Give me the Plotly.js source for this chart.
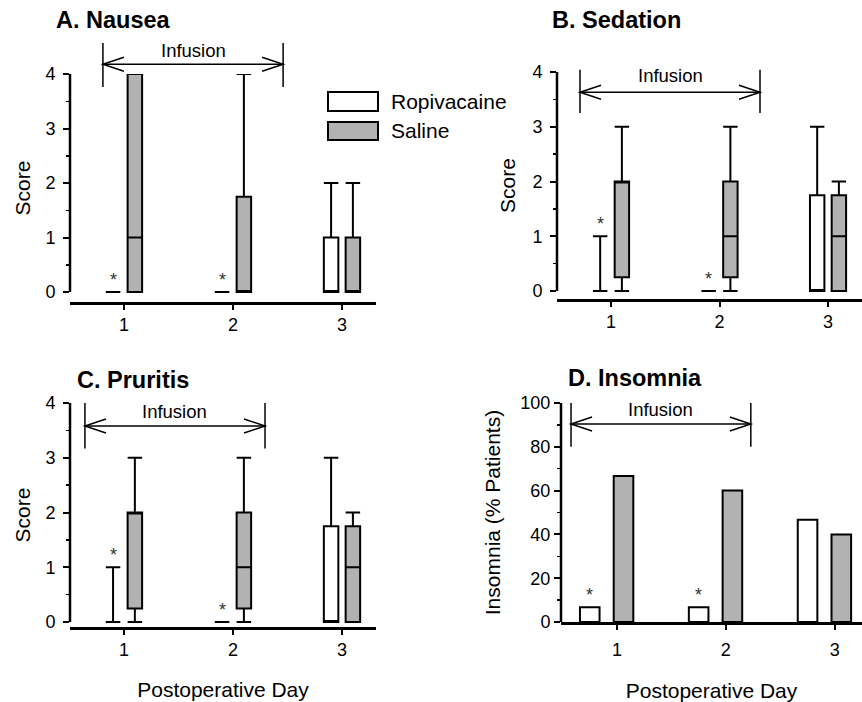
<!DOCTYPE html>
<html><head><meta charset="utf-8">
<script src="https://cdn.plot.ly/plotly-3.0.1.min.js"></script>
<style>html,body{margin:0;padding:0;background:#fff}#chart{width:862px;height:702px}</style>
</head><body><div id="chart"></div>
<script>
// ---------- data ----------
const days = [1, 2, 3];
const dayLabels = ['1', '2', '3'];
const seriesNames = ['Ropivacaine', 'Saline'];
const panelTitles = ['A. Nausea', 'B. Sedation', 'C. Pruritis', 'D. Insomnia'];
const scoreTicks = [0, 1, 2, 3, 4];
const scoreMinorTicks = [0.5, 1.5, 2.5, 3.5];
const pctTicks = [0, 20, 40, 60, 80, 100];
const pctMinorTicks = [10, 30, 50, 70, 90];

// A. Nausea (box statistics per day)
const nauseaRopiQ1 = [0, 0, 0];
const nauseaRopiMed = [0, 0, 0];
const nauseaRopiQ3 = [0, 0, 1];
const nauseaRopiLo = [0, 0, 0];
const nauseaRopiHi = [0, 0, 2];
const nauseaSalQ1 = [0, 0, 0];
const nauseaSalMed = [1, 0, 0];
const nauseaSalQ3 = [4, 1.75, 1];
const nauseaSalLo = [0, 0, 0];
const nauseaSalHi = [4, 4, 2];
const nauseaSig = [true, true, false];

// B. Sedation
const sedRopiQ1 = [0, 0, 0];
const sedRopiMed = [0, 0, 0];
const sedRopiQ3 = [0, 0, 1.75];
const sedRopiLo = [0, 0, 0];
const sedRopiHi = [1, 0, 3];
const sedSalQ1 = [0.25, 0.25, 0];
const sedSalMed = [2, 1, 1];
const sedSalQ3 = [2, 2, 1.75];
const sedSalLo = [0, 0, 0];
const sedSalHi = [3, 3, 2];
const sedSig = [true, true, false];

// C. Pruritis
const prurRopiQ1 = [0, 0, 0];
const prurRopiMed = [0, 0, 0];
const prurRopiQ3 = [0, 0, 1.75];
const prurRopiLo = [0, 0, 0];
const prurRopiHi = [1, 0, 3];
const prurSalQ1 = [0.25, 0.25, 0];
const prurSalMed = [2, 1, 1];
const prurSalQ3 = [2, 2, 1.75];
const prurSalLo = [0, 0, 0];
const prurSalHi = [3, 3, 2];
const prurSig = [true, true, false];

// D. Insomnia (% patients)
const insomRopi = [6.7, 6.7, 46.7];
const insomSal = [66.7, 60, 40];
const insomSig = [true, true, false];

// ---------- styling / layout geometry ----------
const FONT = 'Arial, "Liberation Sans", Helvetica, sans-serif';
const W = 862, H = 702;
const GRAY = '#b2b2b2';
const px = v => v / W;
const py = v => 1 - v / H;

const panels = [
  {xa: 'x',  ya: 'y',  dom: {x: [px(70), px(376)],  y: [py(302), py(74)]},  xr: [0.505, 3.312], yr: [-0.183, 4], top: 4,
   ylabOff: 4, ytitleOff: 9, xlabOff: 0, xtitleOff: 18},
  {xa: 'x2', ya: 'y2', dom: {x: [px(557), 1],       y: [py(299), py(72)]},  xr: [0.502, 3.313], yr: [-0.146, 4], top: 4,
   ylabOff: 4, ytitleOff: 11, xlabOff: 0, xtitleOff: 18},
  {xa: 'x3', ya: 'y3', dom: {x: [px(70), px(376)],  y: [py(627), py(403)]}, xr: [0.505, 3.312], yr: [-0.09, 4],  top: 4,
   ylabOff: 4, ytitleOff: 9, xlabOff: 0, xtitleOff: 23},
  {xa: 'x4', ya: 'y4', dom: {x: [px(561), 1],       y: [py(622), py(403)]}, xr: [0.486, 3.25],  yr: [0, 100],    top: 100,
   ylabOff: 0, ytitleOff: 14, xlabOff: 5, xtitleOff: 25}
];
// infusion bracket geometry per panel (axis units)
const brackets = [
  {x0: 0.807, x1: 2.46,  yArrow: 4.18, yTop: 4.57, yBot: 3.76, yText: 4.44},
  {x0: 0.714, x1: 2.373, yArrow: 3.63, yTop: 4.04, yBot: 3.25, yText: 3.93},
  {x0: 0.642, x1: 2.294, yArrow: 3.58, yTop: 4.0,  yBot: 3.17, yText: 3.85},
  {x0: 0.578, x1: 2.229, yArrow: 90.4, yTop: 100,  yBot: 80,   yText: 97}
];
const BOXGAP = 0.6, BOXGROUPGAP = 0.335;
const ropiBoxShift = -0.25 * (1 - BOXGAP);
const BAR_W = 0.18, BAR_OFF = [-0.34, -0.03];

function toPaperY(p, v) {
  const f = (v - p.yr[0]) / (p.yr[1] - p.yr[0]);
  return p.dom.y[0] + f * (p.dom.y[1] - p.dom.y[0]);
}

function boxTrace(name, pi, q1, med, q3, lo, hi, fill) {
  const p = panels[pi];
  return {
    type: 'box', name: name, x: days, q1: q1, median: med, q3: q3,
    lowerfence: lo, upperfence: hi, xaxis: p.xa, yaxis: p.ya,
    alignmentgroup: 'panel' + pi, offsetgroup: name,
    fillcolor: fill, line: {color: '#000', width: 2}, whiskerwidth: 1,
    boxpoints: false, hoverinfo: 'skip', showlegend: false
  };
}

const data = [
  boxTrace(seriesNames[0], 0, nauseaRopiQ1, nauseaRopiMed, nauseaRopiQ3, nauseaRopiLo, nauseaRopiHi, '#ffffff'),
  boxTrace(seriesNames[1], 0, nauseaSalQ1, nauseaSalMed, nauseaSalQ3, nauseaSalLo, nauseaSalHi, GRAY),
  boxTrace(seriesNames[0], 1, sedRopiQ1, sedRopiMed, sedRopiQ3, sedRopiLo, sedRopiHi, '#ffffff'),
  boxTrace(seriesNames[1], 1, sedSalQ1, sedSalMed, sedSalQ3, sedSalLo, sedSalHi, GRAY),
  boxTrace(seriesNames[0], 2, prurRopiQ1, prurRopiMed, prurRopiQ3, prurRopiLo, prurRopiHi, '#ffffff'),
  boxTrace(seriesNames[1], 2, prurSalQ1, prurSalMed, prurSalQ3, prurSalLo, prurSalHi, GRAY),
  {type: 'bar', name: seriesNames[0], x: days, y: insomRopi, xaxis: 'x4', yaxis: 'y4',
   width: BAR_W, offset: BAR_OFF[0], marker: {color: '#ffffff', line: {color: '#000', width: 2}},
   hoverinfo: 'skip', showlegend: false},
  {type: 'bar', name: seriesNames[1], x: days, y: insomSal, xaxis: 'x4', yaxis: 'y4',
   width: BAR_W, offset: BAR_OFF[1], marker: {color: GRAY, line: {color: '#000', width: 2}},
   hoverinfo: 'skip', showlegend: false}
];

const layout = {
  width: W, height: H, margin: {l: 0, r: 0, t: 0, b: 0},
  paper_bgcolor: '#fff', plot_bgcolor: 'rgba(0,0,0,0)',
  font: {family: FONT, color: '#000', size: 18},
  showlegend: false, boxmode: 'group', boxgap: BOXGAP, boxgroupgap: BOXGROUPGAP,
  barmode: 'overlay',
  shapes: [], annotations: []
};

const yTitles = ['Score', 'Score', 'Score', 'Insomnia (% Patients)'];
const xTitles = ['', '', 'Postoperative Day', 'Postoperative Day'];

panels.forEach((p, i) => {
  const n = i === 0 ? '' : String(i + 1);
  const isPct = i === 3;
  layout['xaxis' + n] = {
    domain: p.dom.x, range: p.xr, anchor: p.ya,
    showline: true, linewidth: 2.5, linecolor: '#000',
    ticks: 'outside', ticklen: 5, tickwidth: 2, tickcolor: '#000',
    tickmode: 'array', tickvals: days, ticktext: dayLabels, ticklabelstandoff: p.xlabOff,
    tickfont: {size: 18}, showgrid: false, zeroline: false, fixedrange: true,
    title: {text: xTitles[i], font: {size: 21}, standoff: p.xtitleOff}
  };
  layout['yaxis' + n] = {
    domain: p.dom.y, range: p.yr, anchor: p.xa,
    showline: false,
    ticks: 'outside', ticklen: 6, tickwidth: 2, tickcolor: '#000',
    tickmode: 'array', tickvals: isPct ? pctTicks : scoreTicks, ticklabelstandoff: p.ylabOff,
    minor: {tickmode: 'array', tickvals: isPct ? pctMinorTicks : scoreMinorTicks,
            ticks: 'outside', ticklen: 3, tickwidth: 1.5, tickcolor: '#000', showgrid: false},
    tickfont: {size: 18}, showgrid: false, zeroline: false, fixedrange: true,
    title: {text: yTitles[i], font: {size: 21}, standoff: p.ytitleOff}
  };
  // y axis line from 0 to top tick
  layout.shapes.push({type: 'line', xref: p.xa + ' domain', yref: p.ya, x0: 0, x1: 0, y0: 0, y1: p.top,
    line: {color: '#000', width: 2.5}});
  // infusion bracket
  const b = brackets[i];
  const ya = toPaperY(p, b.yArrow);
  const lineStyle = {color: '#000', width: 1.5};
  layout.shapes.push({type: 'line', xref: p.xa, yref: 'paper', x0: b.x0, x1: b.x1, y0: ya, y1: ya, line: lineStyle});
  layout.shapes.push({type: 'line', xref: p.xa, yref: 'paper', x0: b.x0, x1: b.x0, y0: toPaperY(p, b.yTop), y1: toPaperY(p, b.yBot), line: lineStyle});
  layout.shapes.push({type: 'line', xref: p.xa, yref: 'paper', x0: b.x1, x1: b.x1, y0: toPaperY(p, b.yTop), y1: toPaperY(p, b.yBot), line: lineStyle});
  layout.shapes.push({type: 'path', xref: p.xa, yref: 'paper', xsizemode: 'pixel', ysizemode: 'pixel',
    xanchor: b.x0, yanchor: ya, path: 'M 21 7 L 0 0 L 21 -7', line: lineStyle});
  layout.shapes.push({type: 'path', xref: p.xa, yref: 'paper', xsizemode: 'pixel', ysizemode: 'pixel',
    xanchor: b.x1, yanchor: ya, path: 'M -21 7 L 0 0 L -21 -7', line: lineStyle});
  layout.annotations.push({xref: p.xa, yref: 'paper', x: (b.x0 + b.x1) / 2, y: toPaperY(p, b.yText),
    text: 'Infusion', showarrow: false, xanchor: 'center', yanchor: 'middle', font: {size: 18.5}});
});

// panel titles
const titlePos = [[54, 20], [550, 20], [75, 380], [566, 378]];
panelTitles.forEach((t, i) => {
  layout.annotations.push({xref: 'paper', yref: 'paper', x: px(titlePos[i][0]), y: py(titlePos[i][1]),
    text: '<b>' + t + '</b>', showarrow: false, xanchor: 'left', yanchor: 'middle', font: {size: 23.5}});
});

// significance asterisks
const sigSets = [[nauseaSig, nauseaRopiHi], [sedSig, sedRopiHi], [prurSig, prurRopiHi], [insomSig, insomRopi]];
sigSets.forEach((s, i) => {
  const p = panels[i];
  const shift = i === 3 ? BAR_OFF[0] + BAR_W / 2 : ropiBoxShift;
  s[0].forEach((sig, k) => {
    if (!sig) return;
    layout.annotations.push({xref: p.xa, yref: p.ya, x: days[k] + shift, y: s[1][k],
      text: '*', showarrow: false, xanchor: 'center', yanchor: 'middle', yshift: 12,
      font: {size: 18, color: '#333'}});
  });
});

// legend (drawn in panel A)
const legendItems = [[seriesNames[0], '#ffffff', 92, 111], [seriesNames[1], GRAY, 122, 140]];
legendItems.forEach(it => {
  layout.shapes.push({type: 'rect', xref: 'paper', yref: 'paper', x0: px(328), x1: px(378), y0: py(it[3]), y1: py(it[2]),
    fillcolor: it[1], line: {color: '#000', width: 2}});
  layout.annotations.push({xref: 'paper', yref: 'paper', x: px(389), y: py((it[2] + it[3]) / 2),
    text: it[0], showarrow: false, xanchor: 'left', yanchor: 'middle', font: {size: 21}});
});

Plotly.newPlot('chart', data, layout, {displayModeBar: false, staticPlot: true});
</script>
</body></html>
